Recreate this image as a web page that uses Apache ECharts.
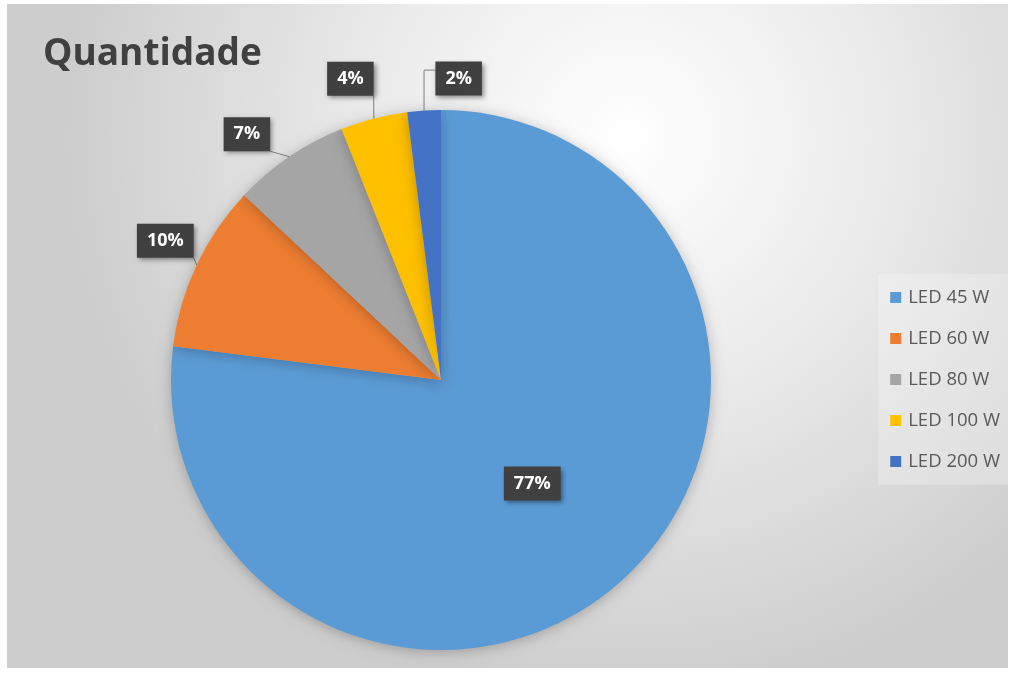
<!DOCTYPE html>
<html>
<head>
<meta charset="utf-8">
<script src="https://cdn.jsdelivr.net/npm/echarts@6/dist/echarts.min.js"></script>
<style>
html,body{margin:0;padding:0;background:#ffffff;}
#chart{width:1013px;height:675px;}
</style>
</head>
<body>
<div id="chart"></div>
<script>
const categories = ['LED 45 W', 'LED 60 W', 'LED 80 W', 'LED 100 W', 'LED 200 W'];
const values = [77, 10, 7, 4, 2];
const colors = ['#5B9BD5', '#ED7D31', '#A5A5A5', '#FFC000', '#4472C4'];
const titleText = 'Quantidade';

const chart = echarts.init(document.getElementById('chart'), null, {renderer: 'canvas'});

const CX = 441, CY = 380, R = 270;
const total = values.reduce((a, b) => a + b, 0);
const mids = [];
let cum = 0;
values.forEach(v => { mids.push((cum + v / 2) / total * Math.PI * 2); cum += v; });

// label placement tweaks (layout only)
const labelGap = 38;
const nudge = {1: [3, -8], 2: [-21, 9], 3: [-14, -3], 4: [37, 6]};

const data = categories.map((c, i) => {
  const d = {name: c, value: values[i], itemStyle: {color: colors[i]}};
  if (i === 0) {
    d.label = {position: 'inside'};
    d.labelLine = {show: false};
  }
  return d;
});

chart.setOption({
  animation: false,
  graphic: [{
    type: 'rect',
    silent: true,
    z: -10,
    shape: {x: 7, y: 4, width: 1001, height: 664},
    style: {
      fill: new echarts.graphic.RadialGradient(0.62, 0.2, 0.85, [
        {offset: 0, color: '#ffffff'},
        {offset: 0.45, color: '#ebebeb'},
        {offset: 1, color: '#cdcdcd'}
      ])
    }
  }],
  title: {
    text: titleText,
    left: 38,
    top: 31,
    textStyle: {fontFamily: 'Open Sans', fontWeight: 'bold', fontSize: 37, color: '#404040'}
  },
  legend: {
    orient: 'vertical',
    right: 5,
    top: 274,
    padding: [14, 8, 14, 12],
    backgroundColor: 'rgba(255,255,255,0.25)',
    itemWidth: 11,
    itemHeight: 11,
    itemGap: 22,
    icon: 'rect',
    textStyle: {fontFamily: 'Open Sans', fontSize: 18.5, color: '#595959', padding: [0, 0, 0, 2]},
    data: categories
  },
  series: [{
    type: 'pie',
    center: [CX, CY],
    radius: R,
    startAngle: 90,
    clockwise: true,
    avoidLabelOverlap: false,
    data: data,
    itemStyle: {shadowBlur: 14, shadowColor: 'rgba(0,0,0,0.25)', shadowOffsetY: 2},
    emphasis: {disabled: true},
    label: {
      show: true,
      position: 'outside',
      formatter: p => p.value + '%',
      fontFamily: 'Open Sans',
      fontWeight: 'bold',
      fontSize: 18,
      color: '#ffffff',
      backgroundColor: '#404040',
      padding: [9, 10, 7, 10],
      shadowBlur: 5,
      shadowColor: 'rgba(0,0,0,0.45)',
      shadowOffsetX: 2,
      shadowOffsetY: 2
    },
    labelLine: {
      show: true,
      length: 10,
      length2: 0,
      lineStyle: {color: '#7f7f7f', width: 1}
    },
    labelLayout: function (p) {
      const i = p.dataIndex;
      if (i === 0) return {};
      const a = mids[i];
      const r = R + labelGap;
      const n = nudge[i] || [0, 0];
      const lx = CX + r * Math.sin(a) + n[0];
      const ly = CY - r * Math.cos(a) + n[1];
      const w = p.labelRect.width, h = p.labelRect.height;
      const ex = CX + R * Math.sin(a), ey = CY - R * Math.cos(a);
      const nx = Math.min(Math.max(ex, lx - w / 2), lx + w / 2);
      const ny = Math.min(Math.max(ey, ly - h / 2), ly + h / 2);
      let pts;
      if (i === 4) {
        const yy = ly - h / 4;
        pts = [[ex, ey], [ex, yy], [lx - w / 2, yy]];
      } else {
        pts = [[ex, ey], [(ex + nx) / 2, (ey + ny) / 2], [nx, ny]];
      }
      return {x: lx, y: ly, align: 'center', verticalAlign: 'middle', labelLinePoints: pts};
    }
  }]
});
</script>
</body>
</html>
